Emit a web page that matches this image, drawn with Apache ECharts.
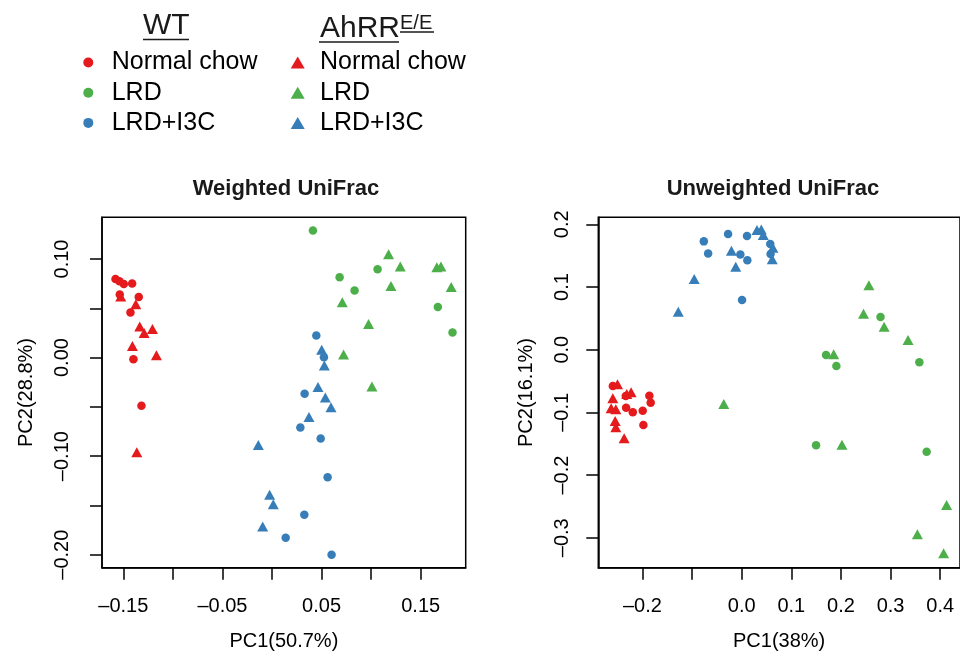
<!DOCTYPE html>
<html>
<head>
<meta charset="utf-8">
<script src="https://cdn.jsdelivr.net/npm/echarts@6/dist/echarts.min.js"></script>
<style>
  html, body { margin: 0; padding: 0; background: #fff; }
  #chart { width: 960px; height: 657px; }
</style>
</head>
<body>
<div id="chart"></div>
<script>
// Weighted UniFrac (left panel), [PC1, PC2]
var wWtChow = [[-0.1579, 0.0798], [-0.1539, 0.0774], [-0.1495, 0.0747], [-0.1411, 0.0751], [-0.1536, 0.0639],
  [-0.1344, 0.0615], [-0.1428, 0.0456], [-0.1398, -0.0017], [-0.1317, -0.0490]];
var wAhChow = [[-0.1526, 0.0619], [-0.1374, 0.0541], [-0.1334, 0.0314], [-0.1290, 0.0250], [-0.1206, 0.0291],
  [-0.1408, 0.0118], [-0.1166, 0.0024], [-0.1364, -0.0960]];
var wWtLrd = [[0.0413, 0.1288], [0.0682, 0.0815], [0.1065, 0.0896], [0.0833, 0.0680], [0.1673, 0.0514], [0.1821, 0.0254]];
var wAhLrd = [[0.1176, 0.1048], [0.1294, 0.0923], [0.1663, 0.0916], [0.1704, 0.0923], [0.1200, 0.0727],
  [0.1808, 0.0717], [0.0709, 0.0561], [0.0974, 0.0341], [0.0722, 0.0030], [0.1008, -0.0294]];
var wWtI3c = [[0.0447, 0.0223], [0.0524, 0.0003], [0.0329, -0.0368], [0.0286, -0.0710], [0.0491, -0.0822],
  [0.0561, -0.1214], [0.0326, -0.1596], [0.0138, -0.1829], [0.0601, -0.2001]];
var wAhI3c = [[0.0501, 0.0078], [0.0528, -0.0081], [0.0464, -0.0298], [0.0538, -0.0406], [0.0595, -0.0504],
  [0.0373, -0.0602], [-0.0138, -0.0886], [-0.0024, -0.1393], [0.0013, -0.1488], [-0.0094, -0.1714]];

// Unweighted UniFrac (right panel)
var uWtChow = [[-0.2597, -0.0579], [-0.2336, -0.0739], [-0.1861, -0.0734], [-0.1834, -0.0845], [-0.2329, -0.0925],
  [-0.2195, -0.0999], [-0.1995, -0.0973], [-0.1981, -0.1201]];
var uAhChow = [[-0.2503, -0.0553], [-0.2316, -0.0707], [-0.2229, -0.0680], [-0.2597, -0.0776], [-0.2631, -0.0936],
  [-0.2537, -0.0952], [-0.2550, -0.1138], [-0.2537, -0.1239], [-0.2369, -0.1414]];
var uWtLrd = [[0.1700, -0.0085], [0.1908, -0.0260], [0.2798, 0.0521], [0.3581, -0.0202], [0.1499, -0.1526], [0.3728, -0.1627]];
var uAhLrd = [[0.1854, -0.0074], [0.2564, 0.1026], [0.2456, 0.0574], [0.2871, 0.0367], [0.3353, 0.0154],
  [-0.0361, -0.0867], [0.2021, -0.1515], [0.4130, -0.2477], [0.3541, -0.2945], [0.4070, -0.3248]];
var uWtI3c = [[-0.0763, 0.1728], [-0.0676, 0.1536], [-0.0274, 0.1845], [0.0107, 0.1813], [-0.0027, 0.1520],
  [0.0114, 0.1425], [0.0007, 0.0792], [0.0576, 0.1685], [0.0582, 0.1526]];
var uAhI3c = [[-0.0957, 0.1127], [-0.1278, 0.0606], [-0.0207, 0.1579], [-0.0120, 0.1324], [0.0308, 0.1909],
  [0.0395, 0.1919], [0.0435, 0.1829], [0.0629, 0.1627], [0.0616, 0.1441]];

// ticks and labels
var wXTicks = [-0.15, -0.10, -0.05, 0, 0.05, 0.10, 0.15];
var wXLabels = [-0.15, -0.05, 0.05, 0.15];
var wYTicks = [-0.20, -0.15, -0.10, -0.05, 0, 0.05, 0.10];
var wYLabels = [-0.20, -0.10, 0, 0.10];
var uXTicks = [-0.2, -0.1, 0, 0.1, 0.2, 0.3, 0.4];
var uXLabels = [-0.2, 0, 0.1, 0.2, 0.3, 0.4];
var uYTicks = [-0.3, -0.2, -0.1, 0, 0.1, 0.2];
var uYLabels = [-0.3, -0.2, -0.1, 0, 0.1, 0.2];

var RED = '#E41A1C', GREEN = '#4DAF4A', BLUE = '#377EB8';
var FONT = 'Liberation Sans, Arial, Helvetica, sans-serif';

function fmt(digits) {
    return function (v) {
        return v.toFixed(digits).replace('-', '\u2013');
    };
}

function xAxis(grid, min, max, ticks, labels, digits, name) {
    return {
        type: 'value', gridIndex: grid, min: min, max: max, name: name,
        nameLocation: 'middle', nameGap: 64,
        nameTextStyle: { fontSize: 20, color: '#000', fontFamily: FONT },
        axisLine: { show: true, onZero: false, lineStyle: { color: '#000', width: 1.5 } },
        axisTick: { show: true, length: 12, customValues: ticks, lineStyle: { color: '#000', width: 1.5 } },
        axisLabel: { customValues: labels, margin: 29, fontSize: 20, color: '#000', fontFamily: FONT, formatter: fmt(digits) },
        splitLine: { show: false }
    };
}

function yAxis(grid, min, max, ticks, labels, digits, name, margin, gap) {
    return {
        type: 'value', gridIndex: grid, min: min, max: max, name: name,
        nameLocation: 'middle', nameGap: gap,
        nameTextStyle: { fontSize: 20, color: '#000', fontFamily: FONT },
        axisLine: { show: true, onZero: false, lineStyle: { color: '#000', width: 1.5 } },
        axisTick: { show: true, length: 12, customValues: ticks, lineStyle: { color: '#000', width: 1.5 } },
        axisLabel: { customValues: labels, rotate: 90, margin: margin, fontSize: 20, color: '#000', fontFamily: FONT, formatter: fmt(digits) },
        splitLine: { show: false }
    };
}

function pts(name, idx, data, symbol, color) {
    return {
        name: name, type: 'scatter', xAxisIndex: idx, yAxisIndex: idx, data: data,
        symbol: symbol, symbolSize: symbol === 'circle' ? 8.5 : [11, 10],
        itemStyle: { color: color, opacity: 1 }, emphasis: { disabled: true }
    };
}

var chart = echarts.init(document.getElementById('chart'));

chart.setOption({
    animation: false,
    title: [
        { text: 'Weighted UniFrac', left: 286, textAlign: 'center', top: 178, padding: 0,
          textStyle: { fontSize: 22, fontWeight: 'bold', color: '#1a1a1a', fontFamily: FONT } },
        { text: 'Unweighted UniFrac', left: 773, textAlign: 'center', top: 178, padding: 0,
          textStyle: { fontSize: 22, fontWeight: 'bold', color: '#1a1a1a', fontFamily: FONT } }
    ],
    legend: [
        {
            orient: 'vertical', left: 83.3, top: 50, padding: 0, itemGap: 5.2,
            itemWidth: 10, itemHeight: 10, selectedMode: false,
            data: [{ name: 'WT Normal chow', icon: 'circle' }, { name: 'WT LRD', icon: 'circle' }, { name: 'WT LRD+I3C', icon: 'circle' }],
            formatter: function (n) { return n.replace(/^WT /, ''); },
            textStyle: { fontSize: 25, lineHeight: 24, color: '#000', fontFamily: FONT, padding: [0, 0, 0, 13.4] }
        },
        {
            orient: 'vertical', left: 290.7, top: 50, padding: 0, itemGap: 5.2,
            itemWidth: 14, itemHeight: 12, selectedMode: false,
            data: [{ name: 'AhRR Normal chow', icon: 'triangle' }, { name: 'AhRR LRD', icon: 'triangle' }, { name: 'AhRR LRD+I3C', icon: 'triangle' }],
            formatter: function (n) { return n.replace(/^AhRR /, ''); },
            textStyle: { fontSize: 25, lineHeight: 24, color: '#000', fontFamily: FONT, padding: [0, 0, 0, 10.3] }
        }
    ],
    graphic: [
        { type: 'text', x: 143, y: 26, style: { text: 'WT', font: '30px ' + FONT, fill: '#1a1a1a', verticalAlign: 'middle' } },
        { type: 'line', shape: { x1: 143, y1: 39.5, x2: 189, y2: 39.5 }, style: { stroke: '#1a1a1a', lineWidth: 1.5 } },
        { type: 'text', x: 320, y: 29, style: { text: 'AhRR', font: '30px ' + FONT, fill: '#1a1a1a', verticalAlign: 'middle' } },
        { type: 'line', shape: { x1: 319, y1: 42, x2: 399, y2: 42 }, style: { stroke: '#1a1a1a', lineWidth: 1.5 } },
        { type: 'text', x: 400, y: 23.3, style: { text: 'E/E', font: '20px ' + FONT, fill: '#1a1a1a', verticalAlign: 'middle' } },
        { type: 'line', shape: { x1: 400, y1: 32, x2: 434, y2: 32 }, style: { stroke: '#1a1a1a', lineWidth: 1.5 } }
    ],
    grid: [
        { left: 102, top: 217.3, width: 363.7, height: 350.4, show: true, borderColor: '#000', borderWidth: 1.5 },
        { left: 598.3, top: 217.3, width: 363.3, height: 350.4, show: true, borderColor: '#000', borderWidth: 1.5 }
    ],
    xAxis: [
        xAxis(0, -0.1715, 0.1954, wXTicks, wXLabels, 2, 'PC1(50.7%)'),
        xAxis(1, -0.289, 0.44, uXTicks, uXLabels, 1, 'PC1(38%)')
    ],
    yAxis: [
        yAxis(0, -0.2132, 0.1423, wYTicks, wYLabels, 2, 'PC2(28.8%)', 30, 66),
        yAxis(1, -0.3478, 0.2112, uYTicks, uYLabels, 1, 'PC2(16.1%)', 26, 62)
    ],
    series: [
        pts('WT Normal chow', 0, wWtChow, 'circle', RED),
        pts('WT LRD', 0, wWtLrd, 'circle', GREEN),
        pts('WT LRD+I3C', 0, wWtI3c, 'circle', BLUE),
        pts('AhRR Normal chow', 0, wAhChow, 'triangle', RED),
        pts('AhRR LRD', 0, wAhLrd, 'triangle', GREEN),
        pts('AhRR LRD+I3C', 0, wAhI3c, 'triangle', BLUE),
        pts('WT Normal chow', 1, uWtChow, 'circle', RED),
        pts('WT LRD', 1, uWtLrd, 'circle', GREEN),
        pts('WT LRD+I3C', 1, uWtI3c, 'circle', BLUE),
        pts('AhRR Normal chow', 1, uAhChow, 'triangle', RED),
        pts('AhRR LRD', 1, uAhLrd, 'triangle', GREEN),
        pts('AhRR LRD+I3C', 1, uAhI3c, 'triangle', BLUE)
    ]
});

window.onresize = function () { chart.resize(); };
</script>
</body>
</html>
